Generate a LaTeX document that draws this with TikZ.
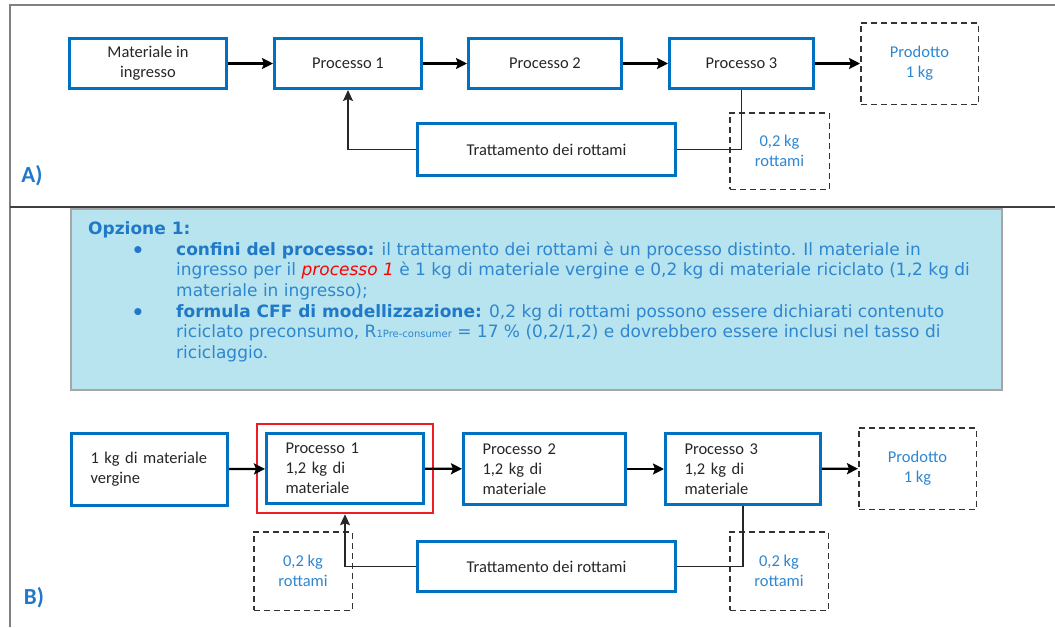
\documentclass[tikz,border=0pt]{standalone}
\usepackage{fontspec}
\setmainfont{Carlito}
\newfontfamily\verd{DejaVu Sans}
\usetikzlibrary{arrows.meta,fit}
\definecolor{boxblue}{HTML}{0070C0}
\definecolor{lblblue}{HTML}{2E86D0}
\definecolor{optblue}{HTML}{1F78C8}
\definecolor{txtgray}{HTML}{262626}
\definecolor{panelcyan}{HTML}{B7E4EE}
\definecolor{hilite}{HTML}{EE1C24}

\begin{document}
\begin{tikzpicture}[x=1pt,y=-1pt,
    b/.style={rectangle,draw=boxblue,line width=3pt,text=txtgray,font=\fontsize{16.5}{20}\selectfont,align=center,inner sep=0pt},
    bl/.style={b,align=left,inner xsep=19pt},
    d/.style={rectangle,draw=black!80,dash pattern=on 6pt off 4pt,line width=1.5pt,text=lblblue,font=\fontsize{16.5}{20}\selectfont,align=center,inner sep=0pt},
    arr/.style={-{Stealth[length=11pt,width=11pt,inset=2pt]},line width=2.3pt},
    fb/.style={line width=1.5pt,black!85},
    tip/.style={-{Stealth[length=11pt,width=10pt,inset=2pt]}},
    lab/.style={text=optblue,font=\fontsize{23}{23}\selectfont\bfseries,inner sep=0pt},
    vt/.style={text=lblblue,font=\verd\fontsize{17}{20.5}\selectfont,align=left,inner sep=0pt},
    bul/.style={text=optblue,font=\verd\fontsize{20}{20}\selectfont\bfseries,inner sep=0pt}]
    \useasboundingbox (0,0) rectangle (1055,627);
    \draw[black!50,line width=2pt] (10,627) -- (10,5) -- (1055,5);
    \draw[black!75,line width=2.5pt] (10,207) -- (1055,207);
    \draw[black!35,line width=1.5pt,fill=panelcyan] (71,209) rectangle (1002,390);

    \node[b,minimum width=157pt,minimum height=50pt] (mat) at (148,63.5) {Materiale in\\ingresso};
    \node[b,minimum width=147pt,minimum height=50pt] (pa1) at (348,63.5) {Processo 1};
    \node[b,minimum width=153pt,minimum height=50pt] (pa2) at (545,63.5) {Processo 2};
    \node[b,minimum width=144pt,minimum height=50pt] (pa3) at (741.5,63.5) {Processo 3};
    \node[d,minimum width=117.5pt,minimum height=81.5pt] (proda) at (919.5,63.5) {Prodotto\\1 kg};
    \node[b,minimum width=258pt,minimum height=52pt] (tra) at (546.5,149.5) {Trattamento dei rottami};
    \node[d,minimum width=99.5pt,minimum height=76.5pt] (rota) at (779.5,151) {0,2 kg\\rottami};
    \draw[arr] (mat) -- (pa1);
    \draw[arr] (pa1) -- (pa2);
    \draw[arr] (pa2) -- (pa3);
    \draw[arr] (pa3) -- (proda);
    \draw[fb] (pa3.south) |- (tra.east);
    \draw[fb,tip] (tra.west) -| (pa1.south);
    \node[lab] (la) at (32,175.5) {A)};

    \node[vt,anchor=base west,text=optblue] (opz) at (88,234) {\bfseries Opzione 1:};
    \node[bul,anchor=base] (bu1) at (138,257) {•};
    \node[bul,anchor=base] (bu2) at (138,319) {•};
    \node[vt,anchor=base west] (it1) at (176,296) {\textcolor{optblue}{\bfseries confini del processo:} il trattamento dei rottami è un processo distinto. Il materiale in\\ingresso per il \textcolor{red}{\itshape processo 1} è 1 kg di materiale vergine e 0,2 kg di materiale riciclato (1,2 kg di\\materiale in ingresso);};
    \node[vt,anchor=base west] (it2) at (176,358) {\textcolor{optblue}{\bfseries formula CFF di modellizzazione:} 0,2 kg di rottami possono essere dichiarati contenuto\\riciclato preconsumo, R{\fontsize{10}{10}\selectfont 1Pre-consumer} = 17 \% (0,2/1,2) e dovrebbero essere inclusi nel tasso di\\riciclaggio.};

    \node[bl,text width=118pt,minimum height=72pt] (ver) at (149.5,469.5) {1 kg di materiale\\vergine};
    \node[bl,text width=119pt,minimum height=70pt] (pb1) at (345,468.5) {Processo 1\\1,2 kg di\\materiale};
    \node[bl,text width=124pt,minimum height=71pt] (pb2) at (544.5,469) {Processo 2\\1,2 kg di\\materiale};
    \node[bl,text width=117pt,minimum height=71pt] (pb3) at (743,469) {Processo 3\\1,2 kg di\\materiale};
    \node[draw=hilite,line width=2.5pt,fit=(pb1),inner sep=8pt] (red) {};
    \node[d,minimum width=117.5pt,minimum height=81.5pt] (prodb) at (917.5,468.5) {Prodotto\\1 kg};
    \node[b,minimum width=258pt,minimum height=50pt] (trb) at (546.5,566.5) {Trattamento dei rottami};
    \node[d,minimum width=98.5pt,minimum height=78.5pt] (rotb1) at (303,571) {0,2 kg\\rottami};
    \node[d,minimum width=98.5pt,minimum height=78.5pt] (rotb2) at (779,571) {0,2 kg\\rottami};
    \draw[arr] (ver) -- (pb1);
    \draw[arr] (pb1) -- (pb2);
    \draw[arr] (pb2) -- (pb3);
    \draw[arr] (pb3) -- (prodb);
    \draw[fb] (pb3.south) |- (trb.east);
    \draw[fb,tip] (trb.west) -| (red.south);
    \node[lab] (lb) at (34,598) {B)};
\end{tikzpicture}
\end{document}
